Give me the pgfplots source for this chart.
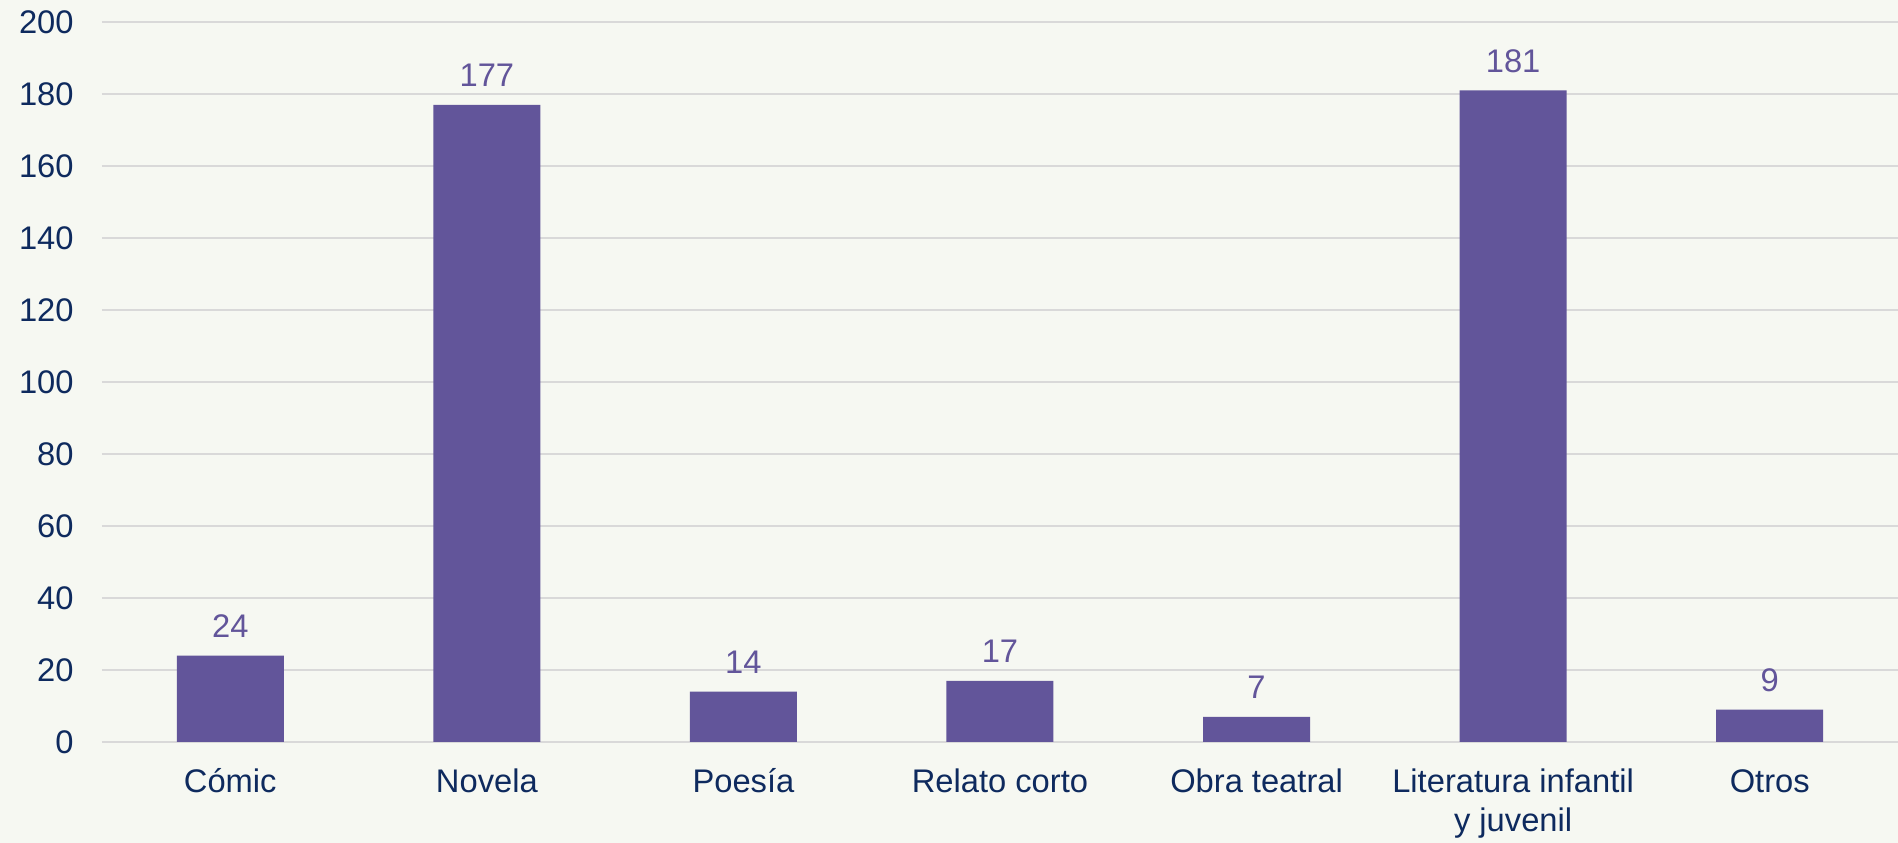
\documentclass[border=0pt]{standalone}
\usepackage{fontspec}
\setmainfont{Liberation Sans}
\usepackage{pgfplots}
\pgfplotsset{compat=1.18}
\definecolor{bg}{HTML}{F6F8F2}
\definecolor{barc}{HTML}{62559A}
\definecolor{txt}{HTML}{0E2A5E}
\definecolor{gridc}{HTML}{D9D9D9}
\newcommand{\tr}{\rule{0pt}{9pt}}
\begin{document}
\begin{tikzpicture}
\fill[bg] (-10.2mm,-10.1mm) rectangle (179.6mm,74.2mm);
\useasboundingbox (-10.2mm,-10.1mm) rectangle (179.6mm,74.2mm);
\begin{axis}[
  at={(0,0)}, anchor=south west,
  scale only axis,
  width=179.6mm, height=72mm,
  ymin=0, ymax=200, ytick={0,20,...,200},
  xmin=-0.5, xmax=6.5,
  xtick={0,...,6},
  xticklabels={\tr C\'omic,\tr Novela,\tr Poes\'ia,\tr Relato corto,\tr Obra teatral,{\tr Literatura infantil\\y juvenil},\tr Otros},
  ybar, bar width=10.7mm,
  axis line style={draw=none},
  major tick style={draw=none},
  ymajorgrids, grid style={gridc, line width=0.8pt},
  tick label style={font=\fontsize{9.3}{11.1}\selectfont, text=txt},
  /pgf/number format/assume math mode=true,
  yticklabel style={anchor=east, xshift=-1.6mm},
  xticklabel style={align=center, anchor=north, inner sep=0pt, yshift=-1pt},
  nodes near coords,
  nodes near coords style={font=\fontsize{9.3}{11.1}\selectfont, text=barc, anchor=base, inner sep=0pt, yshift=1.8mm},
  clip=false,
]
\addplot[fill=barc, draw=none] coordinates {(0,24) (1,177) (2,14) (3,17) (4,7) (5,181) (6,9)};
\end{axis}
\end{tikzpicture}
\end{document}
